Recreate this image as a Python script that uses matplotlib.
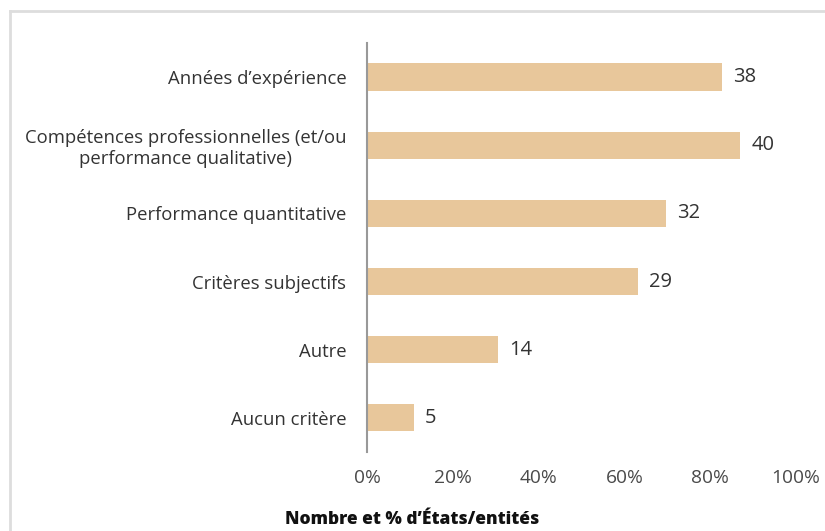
import matplotlib.pyplot as plt
from matplotlib.lines import Line2D

categories = ["Années d’expérience",
              "Compétences professionnelles (et/ou\nperformance qualitative)",
              "Performance quantitative",
              "Critères subjectifs",
              "Autre",
              "Aucun critère"]
counts = [38, 40, 32, 29, 14, 5]
total = 46  # nombre d'États/entités
xticks = [0, 20, 40, 60, 80, 100]

plt.rcParams['font.family'] = ['Open Sans', 'DejaVu Sans']

fig = plt.figure(figsize=(8.25, 5.31), dpi=100)
ax = fig.add_axes([0.445, 0.149, 0.52, 0.77])

pct = [c / total * 100 for c in counts]
ypos = list(range(len(categories)))
ax.barh(ypos, pct, height=0.4, color='#E8C79B')

for y, p, c in zip(ypos, pct, counts):
    ax.text(p + 2.6, y, str(c), va='center', ha='left', fontsize=14.5, color='#333333')

ax.set_ylim(len(categories) - 0.5, -0.5)
ax.set_xlim(0, 100)
ax.set_yticks(ypos)
ax.set_yticklabels(categories, fontsize=13.3, color='#333333', multialignment='center',
                   linespacing=1.2)
ax.set_xticks(xticks)
ax.set_xticklabels([f"{t}%" for t in xticks], fontsize=13.8, color='#4a4a4a')
ax.tick_params(axis='both', length=0)
ax.tick_params(axis='y', pad=15)
ax.tick_params(axis='x', pad=12)

for s in ['top', 'right', 'bottom']:
    ax.spines[s].set_visible(False)
ax.spines['left'].set_color('#999999')
ax.spines['left'].set_linewidth(1.5)

fig.text(412 / 825, 1 - 520 / 531, "Nombre et % d’États/entités", ha='center', va='center',
         fontsize=12.5, fontweight='heavy', color='#111111')

# cadre gris clair
fig.add_artist(Line2D([10 / 825, 10 / 825], [0, 1 - 11 / 531], color='#dddddd', lw=2))
fig.add_artist(Line2D([10 / 825, 1], [1 - 11 / 531, 1 - 11 / 531], color='#dddddd', lw=2))

fig.savefig('out.png')
